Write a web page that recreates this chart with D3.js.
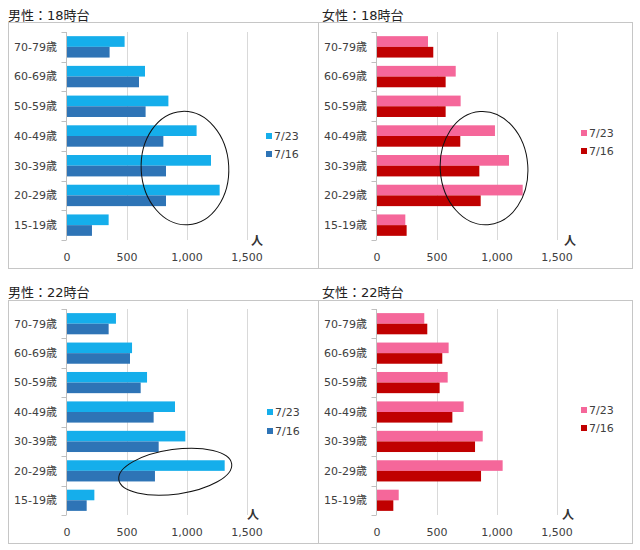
<!DOCTYPE html>
<html>
<head>
<meta charset="utf-8">
<script src="https://cdn.jsdelivr.net/npm/d3@7"></script>
<style>
  html, body { margin: 0; padding: 0; background: #fff; }
  svg { display: block; font-family: "DejaVu Sans", "Noto Sans CJK JP", sans-serif; }
</style>
</head>
<body>
<svg id="chart" width="640" height="550"></svg>
<script>
// ---- data (top-to-bottom order as displayed) ----
const categories = ["70-79歳", "60-69歳", "50-59歳", "40-49歳", "30-39歳", "20-29歳", "15-19歳"];
const seriesNames = ["7/23", "7/16"];
const xTicks = [0, 500, 1000, 1500];
const xTickLabels = ["0", "500", "1,000", "1,500"];
const unitLabel = "人";
const panelTitles = ["男性：18時台", "女性：18時台", "男性：22時台", "女性：22時台"];

const male18_0723   = [480, 650, 845, 1080, 1200, 1272, 347];
const male18_0716   = [355, 600, 655, 803, 825, 825, 208];
const female18_0723 = [425, 656, 697, 983, 1100, 1214, 236];
const female18_0716 = [469, 572, 572, 694, 853, 864, 247];
const male22_0723   = [408, 542, 667, 900, 986, 1314, 228];
const male22_0716   = [347, 525, 614, 722, 764, 733, 164];
const female22_0723 = [394, 597, 589, 722, 881, 1047, 181];
const female22_0716 = [419, 544, 522, 628, 817, 867, 136];

const maleColors = ["#15aeeb", "#2e74b6"];
const femaleColors = ["#f5679a", "#c00000"];

// annotation ellipses: center in data units (value, band index), radii in value units / bands
const ellipses = [
  { panel: 0, cx: 983, cy: 4.58, rx: 365, ry: 1.91, rot: -3 },
  { panel: 1, cx: 892, cy: 4.58, rx: 365, ry: 1.91, rot: -4 },
  { panel: 2, cx: 902, cy: 5.53, rx: 475, ry: 0.76, rot: -8 }
];

// ---- layout per panel ----
const panels = [
  { title: panelTitles[0], values: [male18_0723, male18_0716], colors: maleColors,
    box: [8, 22, 318, 268], titleXY: [8, 20], x0: 67, y: [32, 240], tickY: 261,
    legend: [266, 136, 154], unit: [257, 245] },
  { title: panelTitles[1], values: [female18_0723, female18_0716], colors: femaleColors,
    box: [318, 22, 632, 268], titleXY: [322, 20], x0: 377, y: [32, 240], tickY: 261,
    legend: [581, 133, 151], unit: [570, 245] },
  { title: panelTitles[2], values: [male22_0723, male22_0716], colors: maleColors,
    box: [8, 300, 318, 543], titleXY: [8, 297], x0: 67, y: [309, 515], tickY: 536,
    legend: [267, 412, 431], unit: [253, 519] },
  { title: panelTitles[3], values: [female22_0723, female22_0716], colors: femaleColors,
    box: [318, 300, 632, 543], titleXY: [322, 297], x0: 377, y: [309, 515], tickY: 536,
    legend: [581, 410, 428], unit: [568, 519] }
];

const svg = d3.select("#chart");
const pxPer = 180 / 1500;

panels.forEach((p, pi) => {
  const g = svg.append("g");
  const [bx0, by0, bx1, by1] = p.box;
  g.append("rect").attr("x", bx0 + 0.5).attr("y", by0 + 0.5)
    .attr("width", bx1 - bx0).attr("height", by1 - by0)
    .attr("fill", "none").attr("stroke", "#c6c6c6").attr("stroke-width", 1);

  g.append("text").attr("x", p.titleXY[0]).attr("y", p.titleXY[1])
    .attr("font-size", 13).attr("fill", "#222").text(p.title);

  const x = d3.scaleLinear().domain([0, 1500]).range([p.x0, p.x0 + 1500 * pxPer]);
  const y = d3.scaleBand().domain(categories).range(p.y).paddingInner(0.28).paddingOuter(0.14);
  const ySub = d3.scaleBand().domain(seriesNames).range([0, y.bandwidth()]);
  const step = y.step();

  // gridlines
  g.append("g").selectAll("line").data(xTicks.slice(1)).join("line")
    .attr("x1", d => Math.round(x(d)) + 0.5).attr("x2", d => Math.round(x(d)) + 0.5)
    .attr("y1", p.y[0]).attr("y2", p.y[1])
    .attr("stroke", "#d9d9d9").attr("stroke-width", 1);

  // bars
  seriesNames.forEach((s, si) => {
    g.append("g").selectAll("rect").data(categories).join("rect")
      .attr("x", x(0))
      .attr("y", c => y(c) + ySub(s))
      .attr("width", (c, i) => x(p.values[si][i]) - x(0))
      .attr("height", ySub.bandwidth())
      .attr("fill", p.colors[si]);
  });

  // y axis line + band ticks
  const ax = Math.round(x(0)) - 0.5;
  g.append("line").attr("x1", ax).attr("x2", ax).attr("y1", p.y[0]).attr("y2", p.y[1])
    .attr("stroke", "#bfbfbf");
  g.append("g").selectAll("line").data(d3.range(categories.length + 1)).join("line")
    .attr("x1", ax - 5).attr("x2", ax)
    .attr("y1", i => Math.round(p.y[0] + i * step) + 0.5)
    .attr("y2", i => Math.round(p.y[0] + i * step) + 0.5)
    .attr("stroke", "#bfbfbf");

  // category labels
  g.append("g").selectAll("text").data(categories).join("text")
    .attr("x", x(0) - 10).attr("y", c => y(c) + y.bandwidth() / 2)
    .attr("dy", "0.35em").attr("text-anchor", "end")
    .attr("font-size", 11).attr("fill", "#404040").text(c => c);

  // x tick labels
  g.append("g").selectAll("text").data(xTicks).join("text")
    .attr("x", d => x(d)).attr("y", p.tickY).attr("text-anchor", "middle")
    .attr("font-size", 11).attr("fill", "#404040").text((d, i) => xTickLabels[i]);

  // unit label
  g.append("text").attr("x", p.unit[0]).attr("y", p.unit[1]).attr("text-anchor", "middle")
    .attr("font-size", 12).attr("font-weight", "bold").attr("fill", "#333").text(unitLabel);

  // legend
  seriesNames.forEach((s, si) => {
    const cy = p.legend[1 + si];
    g.append("rect").attr("x", p.legend[0]).attr("y", cy - 3).attr("width", 6).attr("height", 6)
      .attr("fill", p.colors[si]);
    g.append("text").attr("x", p.legend[0] + 8).attr("y", cy).attr("dy", "0.35em")
      .attr("font-size", 11).attr("fill", "#404040").text(s);
  });

  // ellipses
  ellipses.filter(e => e.panel === pi).forEach(e => {
    const cx = x(e.cx);
    const cy = p.y[0] + e.cy * step;
    g.append("ellipse")
      .attr("cx", cx).attr("cy", cy)
      .attr("rx", e.rx * pxPer).attr("ry", e.ry * step)
      .attr("transform", `rotate(${e.rot},${cx},${cy})`)
      .attr("fill", "none").attr("stroke", "#111").attr("stroke-width", 1);
  });
});
</script>
</body>
</html>
